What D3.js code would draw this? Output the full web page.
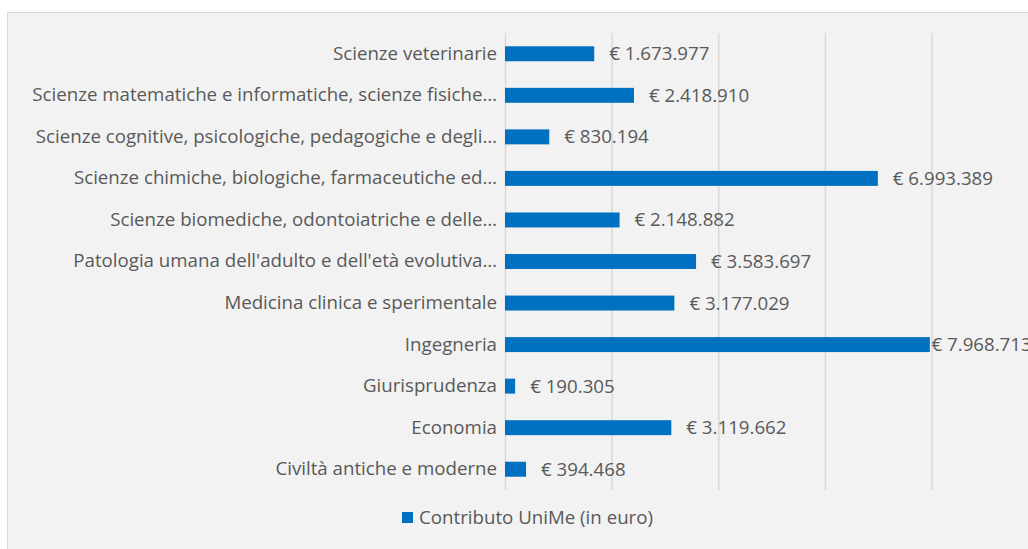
<!DOCTYPE html>
<html>
<head>
<meta charset="utf-8">
<script src="https://d3js.org/d3.v7.min.js"></script>
<style>
  body { margin: 0; background: #ffffff; }
  .lbl { font-family: "Open Sans", sans-serif; font-size: 18.7px; fill: #595959; }
</style>
</head>
<body>
<div id="chart"></div>
<script>
// data
var categories = [
  "Scienze veterinarie",
  "Scienze matematiche e informatiche, scienze fisiche…",
  "Scienze cognitive, psicologiche, pedagogiche e degli…",
  "Scienze chimiche, biologiche, farmaceutiche ed…",
  "Scienze biomediche, odontoiatriche e delle…",
  "Patologia umana dell'adulto e dell'età evolutiva…",
  "Medicina clinica e sperimentale",
  "Ingegneria",
  "Giurisprudenza",
  "Economia",
  "Civiltà antiche e moderne"
];
var values = [1673977, 2418910, 830194, 6993389, 2148882, 3583697, 3177029, 7968713, 190305, 3119662, 394468];
var xTicks = [0, 2000000, 4000000, 6000000, 8000000];
var seriesName = "Contributo UniMe (in euro)";

var W = 1028, H = 549;
var plot = { left: 505, right: 931.5, top: 33, bottom: 490 };
var barColor = "#0070c0";

var it = d3.formatLocale({ decimal: ",", thousands: ".", grouping: [3], currency: ["€ ", ""] });
var fmt = it.format("$,");

var svg = d3.select("#chart").append("svg")
    .attr("width", W)
    .attr("height", H);

// chart area background
svg.append("rect")
    .attr("x", 7.5).attr("y", 12.5)
    .attr("width", W + 10).attr("height", H + 10)
    .attr("fill", "#f2f2f2")
    .attr("stroke", "#d9d9d9");

var x = d3.scaleLinear().domain([0, 8000000]).range([plot.left, plot.right]);
var y = d3.scaleBand().domain(categories).range([plot.top, plot.bottom])
    .paddingInner(0.64).paddingOuter(0.32);

// gridlines
var grid = svg.append("g")
    .attr("transform", "translate(0," + plot.bottom + ")")
    .call(d3.axisBottom(x).tickValues(xTicks).tickSize(-(plot.bottom - plot.top)).tickFormat(""));
grid.select(".domain").remove();
grid.selectAll("line").attr("stroke", "#d9d9d9").attr("stroke-width", 1.5);

// category labels
var yAxis = svg.append("g")
    .attr("transform", "translate(" + (plot.left - 8) + ",0)")
    .call(d3.axisLeft(y).tickSize(0).tickPadding(0));
yAxis.select(".domain").remove();
yAxis.attr("font-family", null).attr("font-size", null);
yAxis.selectAll("text")
    .attr("class", "lbl")
    .attr("fill", null);

// bars
svg.selectAll(".bar")
    .data(values)
    .enter().append("rect")
    .attr("class", "bar")
    .attr("x", x(0))
    .attr("y", function(d, i) { return y(categories[i]); })
    .attr("width", function(d) { return x(d) - x(0); })
    .attr("height", y.bandwidth())
    .attr("fill", barColor);

// value labels
svg.selectAll(".val")
    .data(values)
    .enter().append("text")
    .attr("class", "lbl val")
    .attr("x", function(d) { return Math.min(x(d) + 15, plot.right); })
    .attr("y", function(d, i) { return y(categories[i]) + y.bandwidth() / 2; })
    .attr("dy", "0.35em")
    .text(function(d) { return fmt(d); });

// legend
var leg = svg.append("g").attr("transform", "translate(402,512)");
leg.append("rect").attr("width", 11).attr("height", 11).attr("fill", barColor);
leg.append("text")
    .attr("class", "lbl")
    .attr("x", 17).attr("y", 5.5).attr("dy", "0.35em")
    .text(seriesName);
</script>
</body>
</html>
